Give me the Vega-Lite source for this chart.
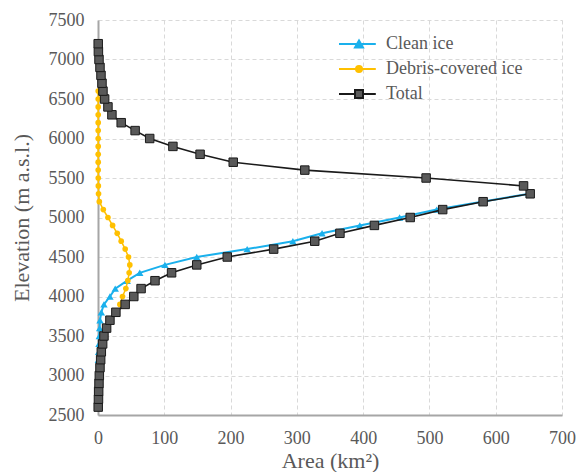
{
  "$schema": "https://vega.github.io/schema/vega-lite/v6.json",
  "width": 464,
  "height": 395,
  "autosize": {"type": "none"},
  "padding": {"left": 98, "top": 20, "right": 14, "bottom": 57},
  "background": "white",
  "config": {
    "view": {"stroke": null},
    "font": "Liberation Serif",
    "axis": {
      "labelFont": "Liberation Serif", "labelFontSize": 18, "labelColor": "#595959",
      "titleFont": "Liberation Serif", "titleFontSize": 22, "titleColor": "#595959", "titleFontWeight": "normal",
      "ticks": false, "tickSize": 0,
      "gridColor": "#d9d9d9", "gridDash": [4, 3], "gridWidth": 1,
      "domainColor": "#a6a6a6", "domainWidth": 2,
      "labelFlush": false
    }
  },
  "data": {"values": [
    {"series": "Total", "elev": 7200, "area": 0.3},
    {"series": "Total", "elev": 7100, "area": 0.6},
    {"series": "Total", "elev": 7000, "area": 1.5},
    {"series": "Total", "elev": 6900, "area": 3},
    {"series": "Total", "elev": 6800, "area": 4.5},
    {"series": "Total", "elev": 6700, "area": 6},
    {"series": "Total", "elev": 6600, "area": 7.5},
    {"series": "Total", "elev": 6500, "area": 10},
    {"series": "Total", "elev": 6400, "area": 15},
    {"series": "Total", "elev": 6300, "area": 21},
    {"series": "Total", "elev": 6200, "area": 35},
    {"series": "Total", "elev": 6100, "area": 56},
    {"series": "Total", "elev": 6000, "area": 78},
    {"series": "Total", "elev": 5900, "area": 113},
    {"series": "Total", "elev": 5800, "area": 154},
    {"series": "Total", "elev": 5700, "area": 204},
    {"series": "Total", "elev": 5600, "area": 312},
    {"series": "Total", "elev": 5500, "area": 495},
    {"series": "Total", "elev": 5400, "area": 642},
    {"series": "Total", "elev": 5300, "area": 652},
    {"series": "Total", "elev": 5200, "area": 581},
    {"series": "Total", "elev": 5100, "area": 520},
    {"series": "Total", "elev": 5000, "area": 471},
    {"series": "Total", "elev": 4900, "area": 417},
    {"series": "Total", "elev": 4800, "area": 365},
    {"series": "Total", "elev": 4700, "area": 327},
    {"series": "Total", "elev": 4600, "area": 265},
    {"series": "Total", "elev": 4500, "area": 195},
    {"series": "Total", "elev": 4400, "area": 149},
    {"series": "Total", "elev": 4300, "area": 111},
    {"series": "Total", "elev": 4200, "area": 86},
    {"series": "Total", "elev": 4100, "area": 65},
    {"series": "Total", "elev": 4000, "area": 54},
    {"series": "Total", "elev": 3900, "area": 41},
    {"series": "Total", "elev": 3800, "area": 27},
    {"series": "Total", "elev": 3700, "area": 18},
    {"series": "Total", "elev": 3600, "area": 13},
    {"series": "Total", "elev": 3500, "area": 9},
    {"series": "Total", "elev": 3400, "area": 7},
    {"series": "Total", "elev": 3300, "area": 5},
    {"series": "Total", "elev": 3200, "area": 4},
    {"series": "Total", "elev": 3100, "area": 3},
    {"series": "Total", "elev": 3000, "area": 2},
    {"series": "Total", "elev": 2900, "area": 1.5},
    {"series": "Total", "elev": 2800, "area": 1},
    {"series": "Total", "elev": 2700, "area": 0.7},
    {"series": "Total", "elev": 2600, "area": 0.3},
    {"series": "Debris-covered ice", "elev": 6600, "area": 0.3},
    {"series": "Debris-covered ice", "elev": 6500, "area": 0.3},
    {"series": "Debris-covered ice", "elev": 6400, "area": 0.3},
    {"series": "Debris-covered ice", "elev": 6300, "area": 0.3},
    {"series": "Debris-covered ice", "elev": 6200, "area": 0.3},
    {"series": "Debris-covered ice", "elev": 6100, "area": 0.3},
    {"series": "Debris-covered ice", "elev": 6000, "area": 0.3},
    {"series": "Debris-covered ice", "elev": 5900, "area": 0.3},
    {"series": "Debris-covered ice", "elev": 5800, "area": 0.3},
    {"series": "Debris-covered ice", "elev": 5700, "area": 0.3},
    {"series": "Debris-covered ice", "elev": 5600, "area": 0.3},
    {"series": "Debris-covered ice", "elev": 5500, "area": 0.4},
    {"series": "Debris-covered ice", "elev": 5400, "area": 0.5},
    {"series": "Debris-covered ice", "elev": 5300, "area": 0.8},
    {"series": "Debris-covered ice", "elev": 5200, "area": 2},
    {"series": "Debris-covered ice", "elev": 5100, "area": 8},
    {"series": "Debris-covered ice", "elev": 5000, "area": 15},
    {"series": "Debris-covered ice", "elev": 4900, "area": 22},
    {"series": "Debris-covered ice", "elev": 4800, "area": 29},
    {"series": "Debris-covered ice", "elev": 4700, "area": 35},
    {"series": "Debris-covered ice", "elev": 4600, "area": 41},
    {"series": "Debris-covered ice", "elev": 4500, "area": 46},
    {"series": "Debris-covered ice", "elev": 4400, "area": 48},
    {"series": "Debris-covered ice", "elev": 4300, "area": 47},
    {"series": "Debris-covered ice", "elev": 4200, "area": 45},
    {"series": "Debris-covered ice", "elev": 4100, "area": 42},
    {"series": "Debris-covered ice", "elev": 4000, "area": 37},
    {"series": "Debris-covered ice", "elev": 3900, "area": 33},
    {"series": "Clean ice", "elev": 5300, "area": 651},
    {"series": "Clean ice", "elev": 5200, "area": 579},
    {"series": "Clean ice", "elev": 5100, "area": 511},
    {"series": "Clean ice", "elev": 5000, "area": 455},
    {"series": "Clean ice", "elev": 4900, "area": 395},
    {"series": "Clean ice", "elev": 4800, "area": 338},
    {"series": "Clean ice", "elev": 4700, "area": 294},
    {"series": "Clean ice", "elev": 4600, "area": 225},
    {"series": "Clean ice", "elev": 4500, "area": 149},
    {"series": "Clean ice", "elev": 4400, "area": 101},
    {"series": "Clean ice", "elev": 4300, "area": 63},
    {"series": "Clean ice", "elev": 4200, "area": 44},
    {"series": "Clean ice", "elev": 4100, "area": 26},
    {"series": "Clean ice", "elev": 4000, "area": 18},
    {"series": "Clean ice", "elev": 3900, "area": 9},
    {"series": "Clean ice", "elev": 3800, "area": 5},
    {"series": "Clean ice", "elev": 3700, "area": 3},
    {"series": "Clean ice", "elev": 3600, "area": 2.5},
    {"series": "Clean ice", "elev": 3500, "area": 2},
    {"series": "Clean ice", "elev": 3400, "area": 1.5},
    {"series": "Clean ice", "elev": 3300, "area": 1},
    {"series": "Clean ice", "elev": 3200, "area": 0.5}
  ]},
  "encoding": {
    "x": {
      "field": "area", "type": "quantitative",
      "scale": {"domain": [0, 700], "nice": false},
      "axis": {"values": [0, 100, 200, 300, 400, 500, 600, 700], "format": "d", "labelPadding": 14, "titlePadding": 3},
      "title": "Area (km²)"
    },
    "y": {
      "field": "elev", "type": "quantitative",
      "scale": {"domain": [2500, 7500], "nice": false, "zero": false},
      "axis": {"values": [2500, 3000, 3500, 4000, 4500, 5000, 5500, 6000, 6500, 7000, 7500], "format": "d", "labelPadding": 14, "titlePadding": 15},
      "title": "Elevation (m a.s.l.)"
    },
    "order": {"field": "elev", "type": "quantitative"}
  },
  "layer": [
    {
      "transform": [{"filter": "datum.series == 'Clean ice'"}],
      "mark": {"type": "line", "strokeWidth": 2},
      "encoding": {
        "color": {
          "field": "series", "type": "nominal",
          "scale": {"domain": ["Clean ice", "Debris-covered ice", "Total"], "range": ["#1ab0ec", "#ffc000", "#1a1a1a"]},
          "legend": {
            "title": null,
            "orient": "none",
            "legendX": 252,
            "legendY": 15,
            "labelFont": "Liberation Serif",
            "labelFontSize": 18,
            "labelColor": "#595959",
            "symbolSize": 64,
            "symbolStrokeWidth": 2,
            "labelOffset": 18,
            "rowPadding": 7,
            "encode": {
              "symbols": {
                "update": {
                  "shape": {"signal": "datum.value == 'Clean ice' ? 'M-5,0H4.2M-1,0.85L0,-0.9L1,0.85Z' : datum.value == 'Total' ? 'M-5,0H-1M1,0H4.2M-1,-1H1V1H-1Z' : 'M-5,0H4.2M0.75,0A0.75,0.75 0 1,1 -0.75,0A0.75,0.75 0 1,1 0.75,0Z'"},
                  "fill": {"signal": "datum.value == 'Clean ice' ? '#1ab0ec' : datum.value == 'Total' ? '#595959' : '#ffc000'"},
                  "stroke": {"signal": "datum.value == 'Clean ice' ? '#1ab0ec' : datum.value == 'Total' ? '#1a1a1a' : '#ffc000'"},
                  "opacity": {"value": 1}
                }
              }
            }
          }
        }
      }
    },
    {
      "transform": [{"filter": "datum.series == 'Clean ice'"}],
      "mark": {"type": "point", "shape": "triangle-up", "filled": true, "color": "#1ab0ec", "size": 55, "opacity": 1}
    },
    {
      "transform": [{"filter": "datum.series == 'Debris-covered ice'"}],
      "mark": {"type": "line", "strokeWidth": 1.5},
      "encoding": {"color": {"field": "series", "type": "nominal"}}
    },
    {
      "transform": [{"filter": "datum.series == 'Debris-covered ice'"}],
      "mark": {"type": "point", "shape": "circle", "filled": true, "color": "#ffc000", "size": 32, "opacity": 1}
    },
    {
      "transform": [{"filter": "datum.series == 'Total'"}],
      "mark": {"type": "line", "strokeWidth": 1.6},
      "encoding": {"color": {"field": "series", "type": "nominal"}}
    },
    {
      "transform": [{"filter": "datum.series == 'Total'"}],
      "mark": {"type": "point", "shape": "square", "filled": true, "fill": "#595959", "stroke": "#1a1a1a", "strokeWidth": 1, "size": 72, "opacity": 1}
    }
  ]
}
